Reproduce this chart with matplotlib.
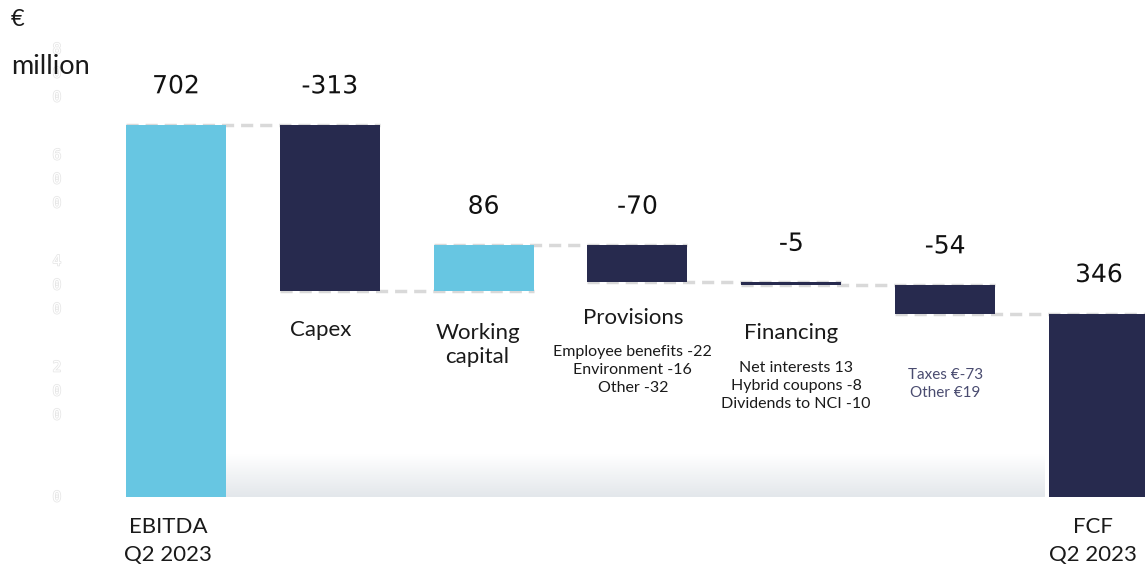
import numpy as np
import matplotlib
matplotlib.use('Agg')
import matplotlib.pyplot as plt
import matplotlib.patheffects as pe
from matplotlib.colors import LinearSegmentedColormap

# 数据
steps = ['EBITDA\nQ2 2023', 'Capex', 'Working\ncapital', 'Provisions', 'Financing', '', 'FCF\nQ2 2023']
values = [702, -313, 86, -70, -5, -54, 346]
is_total = [True, False, False, False, False, False, True]
value_labels = ['702', '-313', '86', '-70', '-5', '-54', '346']
details = ['', '', '', 'Employee benefits -22\nEnvironment -16\nOther -32',
           'Net interests 13\nHybrid coupons -8\nDividends to NCI -10', 'Taxes €-73\nOther €19', '']
yticks = [0, 200, 400, 600, 800]

light_blue = '#67c6e2'
navy = '#272a4e'
dash_grey = '#d9d9d9'

# 计算每根柱子的底和高
bottoms, heights, colors = [], [], []
running = 0
for i, (v, tot) in enumerate(zip(values, is_total)):
    if tot:
        bottoms.append(0)
        heights.append(v)
        running = v
    else:
        bottoms.append(running if v >= 0 else running + v)
        heights.append(abs(v))
        running += v
    # 最后的FCF柱为深蓝色
    colors.append(light_blue if (v > 0 and i < len(values) - 1) else navy)
levels = np.cumsum([values[0]] + values[1:-1])  # 连接线高度

fig = plt.figure(figsize=(11.45, 5.71), dpi=100)
ax = fig.add_axes([0, 0, 1, 1])
ax.set_xlim(-1.144, 6.299)
ax.set_ylim(-139.6, 937.9)
ax.axis('off')

x = np.arange(len(values))
w = 0.65
ax.bar(x, heights, bottom=bottoms, width=w, color=colors, zorder=3)

# 连接虚线
for i, lv in enumerate(levels):
    ax.plot([x[i] - w / 2, x[i + 1] + w / 2], [lv, lv], color=dash_grey, lw=2.5,
            dashes=(3.5, 2), zorder=1)

# 底部渐变
cmap = LinearSegmentedColormap.from_list('g', ['#ffffff', '#e3e7eb'])
grad = np.linspace(0, 1, 100).reshape(-1, 1)
ax.imshow(grad, cmap=cmap, aspect='auto', origin='upper',
          extent=[x[0] + w / 2, x[-1] - w / 2 - 0.03, 0, 80], zorder=0)

# 数值标签
for i in range(len(values)):
    top = bottoms[i] + heights[i]
    if i == 1:
        top = bottoms[0] + heights[0]
    ax.text(x[i], top + 73, value_labels[i], ha='center', va='center', fontsize=18,
            family='DejaVu Sans', color='#111111', zorder=5,
            path_effects=[pe.withStroke(linewidth=3, foreground='white')])

# 类别标签
cat_font = 'Lato'
txt = '#1a1a1a'
ax.text(x[1] - 0.06, 315, steps[1], ha='center', va='center', fontsize=16, family=cat_font, color=txt)
ax.text(x[2] - 0.04, 287, steps[2], ha='center', va='center', fontsize=16, family=cat_font,
        color=txt, linespacing=1.25)
ax.text(x[3] - 0.03, 338, steps[3], ha='center', va='center', fontsize=16, family=cat_font, color=txt)
ax.text(x[4], 309, steps[4], ha='center', va='center', fontsize=16, family=cat_font, color=txt)
ax.text(x[3] - 0.03, 240, details[3], ha='center', va='center', fontsize=11.5, family=cat_font,
        color=txt, linespacing=1.35)
ax.text(x[4] + 0.03, 209, details[4], ha='center', va='center', fontsize=11.5, family=cat_font,
        color=txt, linespacing=1.35)
ax.text(x[5], 213, details[5], ha='center', va='center', fontsize=11, family=cat_font,
        color='#4a4c70', linespacing=1.35)
ax.text(x[0] - 0.05, -83, steps[0], ha='center', va='center', fontsize=16, family=cat_font,
        color=txt, linespacing=1.45)
ax.text(x[6] - 0.04, -83, steps[6], ha='center', va='center', fontsize=16, family=cat_font,
        color=txt, linespacing=1.45)

# 淡色坐标刻度（竖排空心数字）
for t in yticks:
    ax.text(-0.774, t, '\n'.join(str(t)), ha='center', va='center', fontsize=10.5,
            family='DejaVu Sans Mono', color='white', linespacing=1.75, zorder=0,
            path_effects=[pe.withStroke(linewidth=1.1, foreground='#e6e6e6')])

# 单位
fig.text(0.009, 0.965, '€', ha='left', va='center', fontsize=17, family=cat_font, color=txt)
fig.text(0.010, 0.883, 'million', ha='left', va='center', fontsize=19.5, family=cat_font, color=txt)

fig.savefig('out.png', dpi=100)
